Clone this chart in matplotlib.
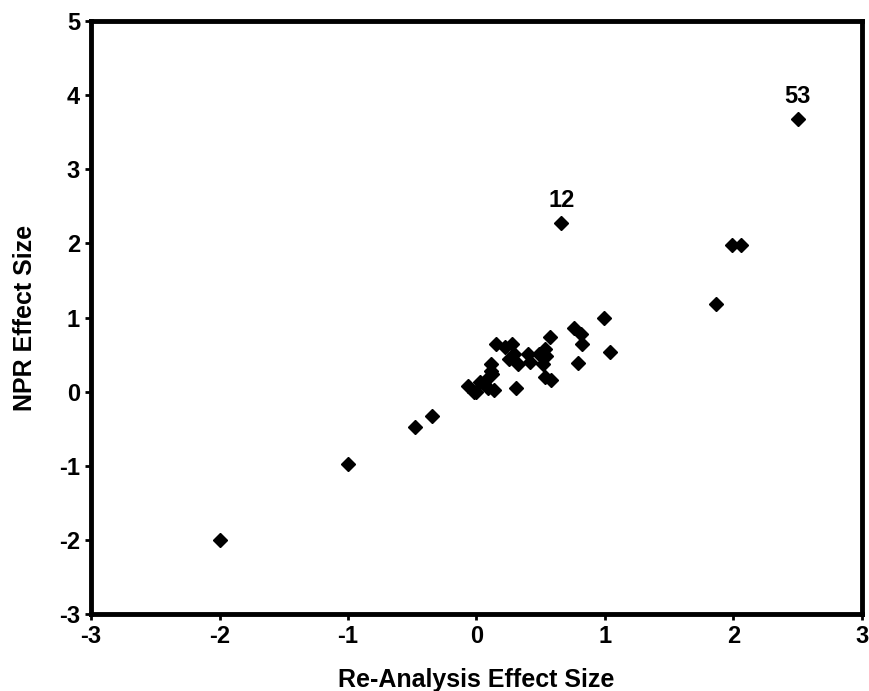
import matplotlib.pyplot as plt

plt.rcParams['font.family'] = ['Liberation Sans', 'DejaVu Sans']
plt.rcParams['font.weight'] = 'bold'
plt.rcParams['axes.unicode_minus'] = False

# effect sizes per study: re-analysis (x) vs. NPR (y)
reanalysis = [2.50, 1.99, 2.06, 1.86, 0.66, -0.48, -0.35, -1.00, -2.00,
              0.99, 0.76, 0.81, 0.82, 1.04, 0.79, 0.57, 0.53, 0.54, 0.52,
              0.53, 0.58, 0.31, 0.15, 0.22, 0.28, 0.29, 0.25, 0.32, 0.40,
              0.42, 0.49, 0.11, 0.11, -0.07, -0.02, 0.03, 0.09, 0.14, 0.07,
              0.00, 0.12, 0.06]
npr = [3.68, 1.98, 1.98, 1.18, 2.27, -0.48, -0.33, -0.98, -2.00,
       1.00, 0.86, 0.78, 0.64, 0.54, 0.38, 0.74, 0.57, 0.48, 0.37,
       0.20, 0.16, 0.05, 0.64, 0.60, 0.64, 0.51, 0.44, 0.37, 0.51,
       0.40, 0.51, 0.37, 0.28, 0.07, -0.01, 0.13, 0.05, 0.02, 0.15,
       0.00, 0.24, 0.10]

# labelled outliers: (study id, index into the arrays above)
callouts = [("53", 0), ("12", 4)]

fig = plt.figure(figsize=(8.7, 6.91), dpi=100)
ax = fig.add_axes([0.1046, 0.1114, 0.8862, 0.8582])

ax.plot(reanalysis, npr, linestyle='none', marker='D', markersize=6.8,
        color='black')

for text, i in callouts:
    ax.text(reanalysis[i], npr[i] + 0.15, text, ha='center', va='bottom',
            fontsize=17, fontweight='bold')

ax.set_xlim(-3, 3)
ax.set_ylim(-3, 5)
ax.set_xticks(range(-3, 4))
ax.set_yticks(range(-3, 6))

for s in ax.spines.values():
    s.set_linewidth(3.5)

ax.tick_params(direction='out', length=4, width=2, labelsize=17, pad=4)
for lab in ax.get_xticklabels() + ax.get_yticklabels():
    lab.set_fontweight('bold')

ax.set_xlabel('Re-Analysis Effect Size', fontsize=18, fontweight='bold',
              labelpad=14)
ax.set_ylabel('NPR Effect Size', fontsize=18, fontweight='bold', labelpad=16)

fig.savefig('out.png', dpi=100)
